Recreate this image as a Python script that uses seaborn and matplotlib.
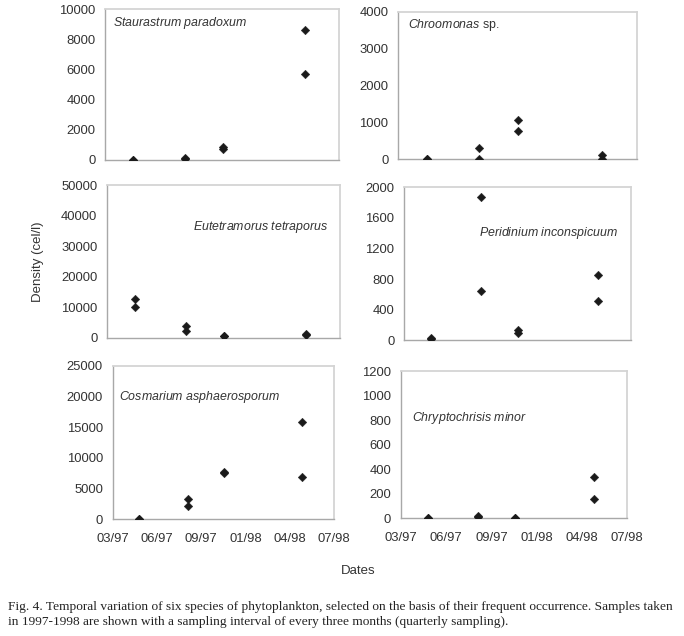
import matplotlib
matplotlib.use("Agg")
import matplotlib.pyplot as plt
import seaborn as sns
import pandas as pd

# ---------------- data ----------------
axis_start = "1997-03-01"
tick_step_days = 105
tick_labels = ["03/97", "06/97", "09/97", "01/98", "04/98", "07/98"]

sample_dates = ["1997-05-03", "1997-05-03", "1997-08-27", "1997-08-27",
                "1997-11-20", "1997-11-20", "1998-05-23", "1998-05-23"]

staurastrum = [0, 20, 110, 90, 760, 830, 8580, 5700]
chroomonas = [0, 0, 290, 0, 1050, 750, 120, 0]
eutetramorus = [12800, 10000, 3800, 2300, 700, 500, 1200, 1100]
peridinium = [30, 20, 1870, 640, 130, 100, 860, 520]
cosmarium = [0, 40, 3300, 2200, 7600, 7500, 15900, 6900]
chryptochrisis = [0, 0, 10, 15, 0, 0, 340, 155]

species_names = [r"$\it{Staurastrum\ paradoxum}$", r"$\it{Chroomonas}$ sp.",
                 r"$\it{Eutetramorus\ tetraporus}$", r"$\it{Peridinium\ inconspicuum}$",
                 r"$\it{Cosmarium\ asphaerosporum}$", r"$\it{Chryptochrisis\ minor}$"]
species_values = [staurastrum, chroomonas, eutetramorus, peridinium, cosmarium, chryptochrisis]
y_max = [10000, 4000, 50000, 2000, 25000, 1200]
y_step = [2000, 1000, 10000, 400, 5000, 200]

caption = ("Fig. 4. Temporal variation of six species of phytoplankton, selected on the basis of their frequent occurrence. Samples taken\n"
           "in 1997-1998 are shown with a sampling interval of every three months (quarterly sampling).")

# ---------------- layout ----------------
sns.set_style("white")
plt.rcParams["font.family"] = ["Liberation Sans", "DejaVu Sans"]
plt.rcParams["mathtext.fontset"] = "custom"
plt.rcParams["mathtext.it"] = "Liberation Sans:italic"
plt.rcParams["mathtext.rm"] = "Liberation Sans"

W, H = 684, 636
fig = plt.figure(figsize=(W / 100, H / 100), dpi=100)

# axes boxes in pixels: (left, right, top, bottom)
boxes = [(105, 339, 9, 160), (398, 637, 12, 159),
         (107, 340, 185.3, 338), (404, 631, 187.3, 340.3),
         (112.7, 334, 366, 519), (400.7, 627.3, 371, 518.3)]
label_pos = [(0.035, 0.91), (0.043, 0.91), (0.37, 0.73), (0.33, 0.70), (0.03, 0.80), (0.05, 0.68)]

start = pd.Timestamp(axis_start)
x_days = [(pd.Timestamp(d) - start).days for d in sample_dates]
tick_pos = [i * tick_step_days for i in range(len(tick_labels))]

for i, (name, vals) in enumerate(zip(species_names, species_values)):
    l, r, t, b = boxes[i]
    ax = fig.add_axes([l / W, 1 - b / H, (r - l) / W, (b - t) / H])
    df = pd.DataFrame({"days": x_days, "density": vals})
    sns.scatterplot(data=df, x="days", y="density", marker="D", s=19,
                    color="#1a1a1a", linewidth=0.3, edgecolor="#1a1a1a", ax=ax, zorder=3)
    ax.set_xlim(tick_pos[0], tick_pos[-1])
    ax.set_ylim(0, y_max[i])
    ax.set_xticks(tick_pos)
    ax.set_yticks(range(0, y_max[i] + 1, y_step[i]))
    ax.set_xlabel("")
    ax.set_ylabel("")
    if i >= 4:
        ax.set_xticklabels(tick_labels)
    else:
        ax.set_xticklabels([])
    for side in ["left", "bottom"]:
        ax.spines[side].set_color("#a8a8a8")
        ax.spines[side].set_linewidth(1.0)
    for side in ["top", "right"]:
        ax.spines[side].set_color("#d4d4d4")
        ax.spines[side].set_linewidth(1.3)
    ax.tick_params(axis="both", direction="out", length=4, width=1.0, color="#a8a8a8",
                   labelsize=9.4, labelcolor="#333333", pad=3)
    ax.tick_params(axis="x", pad=6)
    ax.text(label_pos[i][0], label_pos[i][1], name, transform=ax.transAxes,
            fontsize=8.9, color="#333333", ha="left", va="center")

fig.text(38 / W, 1 - 262 / H, "Density (cel/l)", rotation=90, ha="center", va="center",
         fontsize=9.5, color="#333333")
fig.text(358 / W, 1 - 571 / H, "Dates", ha="center", va="center", fontsize=9.5, color="#333333")
fig.text(8 / W, 1 - 614.5 / H, caption, ha="left", va="center", fontsize=9.6,
         family=["Liberation Serif", "DejaVu Serif"], color="#222222", linespacing=1.35)

fig.savefig("out.png", dpi=100)
